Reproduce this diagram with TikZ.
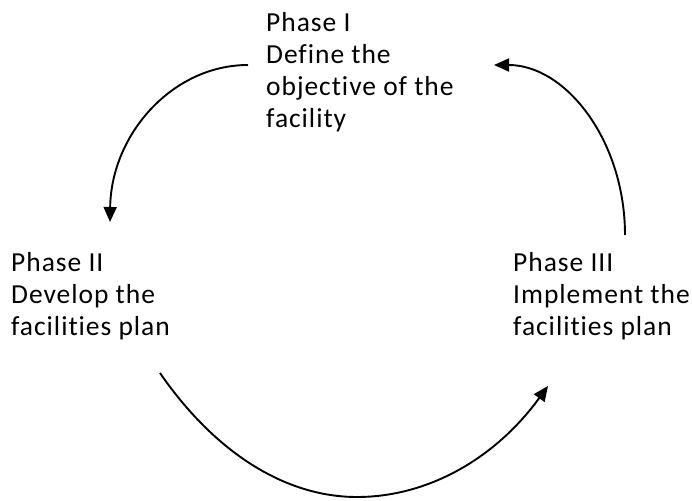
\documentclass[tikz,border=0pt]{standalone}
\usepackage{fontspec}
\setmainfont{Carlito}[Ligatures={NoCommon},RawFeature={-liga;-clig},LetterSpace=3.5]
\usetikzlibrary{arrows.meta}
\begin{document}
\begin{tikzpicture}[x=1pt,y=-1pt,
  phase/.style={anchor=north west,inner sep=0pt,align=left,font=\fontsize{27.5}{32}\selectfont},
  cyc/.style={line width=1.9pt,-{Triangle[length=15pt,width=13pt]}}]
\useasboundingbox (0,0) rectangle (692,500);
\node[phase] (p1) at (266,12) {Phase I\\Define the\\objective of the\\facility};
\node[phase] (p2) at (11,252) {Phase II\\Develop the\\facilities plan};
\node[phase] (p3) at (513,252) {Phase III\\Implement the\\facilities plan};
\coordinate (s1) at (248,65);
\coordinate (e1) at (110,222);
\coordinate (s2) at (160,373);
\coordinate (b2) at (357,497);
\coordinate (e2) at (548,386);
\coordinate (s3) at (625,235);
\coordinate (e3) at (494,65);
\draw[cyc] (s1) .. controls (172,65) and (111,135) .. (e1);
\draw[cyc] (s2) .. controls (214.5,452) and (284.7,497) .. (b2)
  .. controls (426.6,497) and (494.3,459.8) .. (e2);
\draw[cyc] (s3) .. controls (625,141) and (566,65) .. (e3);
\end{tikzpicture}
\end{document}
